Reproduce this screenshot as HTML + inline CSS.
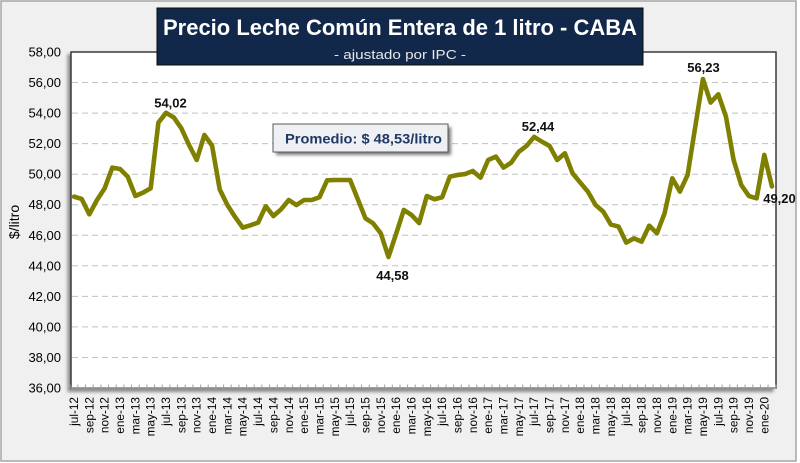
<!DOCTYPE html>
<html><head><meta charset="utf-8"><style>
html,body{margin:0;padding:0;background:#fff;}
svg{display:block;}
text{font-family:"Liberation Sans",sans-serif;}
</style></head><body>
<svg width="800" height="463" viewBox="0 0 800 463" xmlns="http://www.w3.org/2000/svg">
<defs>
<filter id="sh" x="-5%" y="-5%" width="110%" height="110%"><feGaussianBlur stdDeviation="1.5"/></filter>
<filter id="sh2" x="-10%" y="-30%" width="120%" height="160%"><feGaussianBlur stdDeviation="1.5"/></filter>
</defs>
<rect x="1" y="1" width="795" height="460" fill="#f0f0f0" stroke="#a6a6a6" stroke-width="1.5"/>
<rect x="67.5" y="54" width="706" height="338" fill="#8c8c8c" filter="url(#sh)"/>
<rect x="71" y="52" width="705" height="336" fill="#ffffff"/>
<g stroke="#c0c0c0" stroke-width="1" stroke-dasharray="6,4">
<line x1="72" x2="775" y1="357.45" y2="357.45"/>
<line x1="72" x2="775" y1="326.9" y2="326.9"/>
<line x1="72" x2="775" y1="296.4" y2="296.4"/>
<line x1="72" x2="775" y1="265.8" y2="265.8"/>
<line x1="72" x2="775" y1="235.3" y2="235.3"/>
<line x1="72" x2="775" y1="204.7" y2="204.7"/>
<line x1="72" x2="775" y1="174.2" y2="174.2"/>
<line x1="72" x2="775" y1="143.6" y2="143.6"/>
<line x1="72" x2="775" y1="113.1" y2="113.1"/>
<line x1="72" x2="775" y1="82.5" y2="82.5"/>
</g>
<rect x="71" y="52" width="705" height="336" fill="none" stroke="#3a3a3a" stroke-width="1.5"/>
<line x1="71" y1="388" x2="776" y2="388" stroke="#a0a0a0" stroke-width="1.5"/>
<g stroke="#a0a0a0" stroke-width="1">
<path d="M70.2 388V384.5M77.9 388V384.5M85.5 388V384.5M93.2 388V384.5M100.9 388V384.5M108.5 388V384.5M116.2 388V384.5M123.9 388V384.5M131.5 388V384.5M139.2 388V384.5M146.9 388V384.5M154.5 388V384.5M162.2 388V384.5M169.9 388V384.5M177.5 388V384.5M185.2 388V384.5M192.9 388V384.5M200.6 388V384.5M208.2 388V384.5M215.9 388V384.5M223.6 388V384.5M231.2 388V384.5M238.9 388V384.5M246.6 388V384.5M254.2 388V384.5M261.9 388V384.5M269.6 388V384.5M277.3 388V384.5M284.9 388V384.5M292.6 388V384.5M300.3 388V384.5M307.9 388V384.5M315.6 388V384.5M323.3 388V384.5M330.9 388V384.5M338.6 388V384.5M346.3 388V384.5M353.9 388V384.5M361.6 388V384.5M369.3 388V384.5M377 388V384.5M384.6 388V384.5M392.3 388V384.5M400 388V384.5M407.6 388V384.5M415.3 388V384.5M423 388V384.5M430.6 388V384.5M438.3 388V384.5M446 388V384.5M453.7 388V384.5M461.3 388V384.5M469 388V384.5M476.7 388V384.5M484.3 388V384.5M492 388V384.5M499.7 388V384.5M507.3 388V384.5M515 388V384.5M522.7 388V384.5M530.4 388V384.5M538 388V384.5M545.7 388V384.5M553.4 388V384.5M561 388V384.5M568.7 388V384.5M576.4 388V384.5M584 388V384.5M591.7 388V384.5M599.4 388V384.5M607 388V384.5M614.7 388V384.5M622.4 388V384.5M630.1 388V384.5M637.7 388V384.5M645.4 388V384.5M653.1 388V384.5M660.7 388V384.5M668.4 388V384.5M676.1 388V384.5M683.7 388V384.5M691.4 388V384.5M699.1 388V384.5M706.8 388V384.5M714.4 388V384.5M722.1 388V384.5M729.8 388V384.5M737.4 388V384.5M745.1 388V384.5M752.8 388V384.5M760.4 388V384.5M768.1 388V384.5M775.8 388V384.5"/>
</g>
<g font-size="13" fill="#000" text-anchor="end">
<text x="61" y="392.5">36,00</text>
<text x="61" y="362">38,00</text>
<text x="61" y="331.4">40,00</text>
<text x="61" y="300.9">42,00</text>
<text x="61" y="270.3">44,00</text>
<text x="61" y="239.8">46,00</text>
<text x="61" y="209.2">48,00</text>
<text x="61" y="178.7">50,00</text>
<text x="61" y="148.1">52,00</text>
<text x="61" y="117.6">54,00</text>
<text x="61" y="87">56,00</text>
<text x="61" y="56.5">58,00</text>
</g>
<text transform="translate(19,222) rotate(-90)" font-size="14" text-anchor="middle" fill="#000">$/litro</text>
<g font-size="11.8" fill="#000" text-anchor="end">
<text transform="translate(78,397) rotate(-90)">jul-12</text>
<text transform="translate(93.3,397) rotate(-90)">sep-12</text>
<text transform="translate(108.7,397) rotate(-90)">nov-12</text>
<text transform="translate(124,397) rotate(-90)">ene-13</text>
<text transform="translate(139.4,397) rotate(-90)">mar-13</text>
<text transform="translate(154.7,397) rotate(-90)">may-13</text>
<text transform="translate(170,397) rotate(-90)">jul-13</text>
<text transform="translate(185.4,397) rotate(-90)">sep-13</text>
<text transform="translate(200.7,397) rotate(-90)">nov-13</text>
<text transform="translate(216.1,397) rotate(-90)">ene-14</text>
<text transform="translate(231.4,397) rotate(-90)">mar-14</text>
<text transform="translate(246.7,397) rotate(-90)">may-14</text>
<text transform="translate(262.1,397) rotate(-90)">jul-14</text>
<text transform="translate(277.4,397) rotate(-90)">sep-14</text>
<text transform="translate(292.8,397) rotate(-90)">nov-14</text>
<text transform="translate(308.1,397) rotate(-90)">ene-15</text>
<text transform="translate(323.4,397) rotate(-90)">mar-15</text>
<text transform="translate(338.8,397) rotate(-90)">may-15</text>
<text transform="translate(354.1,397) rotate(-90)">jul-15</text>
<text transform="translate(369.5,397) rotate(-90)">sep-15</text>
<text transform="translate(384.8,397) rotate(-90)">nov-15</text>
<text transform="translate(400.1,397) rotate(-90)">ene-16</text>
<text transform="translate(415.5,397) rotate(-90)">mar-16</text>
<text transform="translate(430.8,397) rotate(-90)">may-16</text>
<text transform="translate(446.2,397) rotate(-90)">jul-16</text>
<text transform="translate(461.5,397) rotate(-90)">sep-16</text>
<text transform="translate(476.8,397) rotate(-90)">nov-16</text>
<text transform="translate(492.2,397) rotate(-90)">ene-17</text>
<text transform="translate(507.5,397) rotate(-90)">mar-17</text>
<text transform="translate(522.9,397) rotate(-90)">may-17</text>
<text transform="translate(538.2,397) rotate(-90)">jul-17</text>
<text transform="translate(553.5,397) rotate(-90)">sep-17</text>
<text transform="translate(568.9,397) rotate(-90)">nov-17</text>
<text transform="translate(584.2,397) rotate(-90)">ene-18</text>
<text transform="translate(599.6,397) rotate(-90)">mar-18</text>
<text transform="translate(614.9,397) rotate(-90)">may-18</text>
<text transform="translate(630.2,397) rotate(-90)">jul-18</text>
<text transform="translate(645.6,397) rotate(-90)">sep-18</text>
<text transform="translate(660.9,397) rotate(-90)">nov-18</text>
<text transform="translate(676.3,397) rotate(-90)">ene-19</text>
<text transform="translate(691.6,397) rotate(-90)">mar-19</text>
<text transform="translate(706.9,397) rotate(-90)">may-19</text>
<text transform="translate(722.3,397) rotate(-90)">jul-19</text>
<text transform="translate(737.6,397) rotate(-90)">sep-19</text>
<text transform="translate(753,397) rotate(-90)">nov-19</text>
<text transform="translate(768.3,397) rotate(-90)">ene-20</text>
</g>
<polyline fill="none" stroke="#808000" stroke-width="4.6" stroke-linejoin="round" stroke-linecap="round" points="74,196.63 81.67,198.92 89.34,214.35 97.01,199.99 104.68,188.23 112.35,167.61 120.02,168.99 127.69,176.63 135.36,196.02 143.03,192.66 150.7,188.23 158.37,122.71 166.04,112.79 173.71,117.37 181.38,128.36 189.05,145.01 196.72,159.98 204.39,134.93 212.06,145.62 219.73,189.45 227.4,205.03 235.07,216.95 242.74,227.64 250.41,225.35 258.08,222.6 265.75,206.25 273.42,216.03 281.09,209.31 288.76,199.99 296.43,205.03 304.1,199.99 311.77,199.99 319.44,197.24 327.11,180.29 334.78,179.99 342.45,179.99 350.12,179.99 357.79,199.23 365.46,218.32 373.13,223.36 380.8,233.29 388.47,256.96 396.14,233.75 403.81,209.92 411.48,214.96 419.15,223.05 426.82,196.02 434.49,199.23 442.16,197.24 449.83,176.63 457.5,174.95 465.17,174.03 472.84,170.98 480.51,177.69 488.18,159.98 495.85,156.62 503.52,167.61 511.19,162.73 518.86,151.73 526.53,145.93 534.2,136.92 541.87,141.65 549.54,145.93 557.21,159.98 564.88,153.26 572.55,173.27 580.22,182.58 587.89,191.59 595.56,205.03 603.23,211.6 610.9,224.58 618.57,226.57 626.24,242.6 633.91,238.33 641.58,241.69 649.25,225.65 656.92,233.29 664.59,213.28 672.26,178.31 679.93,191.59 687.6,174.95 695.27,126.68 702.94,79.03 710.61,102.55 718.28,94.31 725.95,116.6 733.62,159.98 741.29,185.03 748.96,196.02 756.63,198.31 764.3,154.94 771.97,186.4"/>
<g font-size="13" font-weight="bold" fill="#111" text-anchor="middle">
<text x="170.5" y="107.5">54,02</text>
<text x="392.5" y="280">44,58</text>
<text x="538" y="131">52,44</text>
<text x="703.5" y="72">56,23</text>
<text x="779.5" y="203">49,20</text>
</g>
<rect x="276" y="127" width="175" height="28" fill="#7a7a7a" filter="url(#sh2)"/>
<rect x="273" y="124" width="175" height="28" fill="#eef0f4" stroke="#595959" stroke-width="1"/>
<text x="285" y="143.5" font-size="14" font-weight="bold" fill="#1f3864" textLength="157" lengthAdjust="spacingAndGlyphs">Promedio: $ 48,53/litro</text>
<rect x="157" y="8" width="486" height="57" fill="#12284a" stroke="#0a0a0a" stroke-width="1"/>
<text x="400" y="35" font-size="22" font-weight="bold" fill="#ffffff" text-anchor="middle" textLength="474" lengthAdjust="spacingAndGlyphs">Precio Leche Común Entera de 1 litro - CABA</text>
<text x="400" y="59" font-size="13" fill="#e8e8e8" text-anchor="middle" textLength="132" lengthAdjust="spacingAndGlyphs">- ajustado por IPC -</text>
</svg>
</body></html>
